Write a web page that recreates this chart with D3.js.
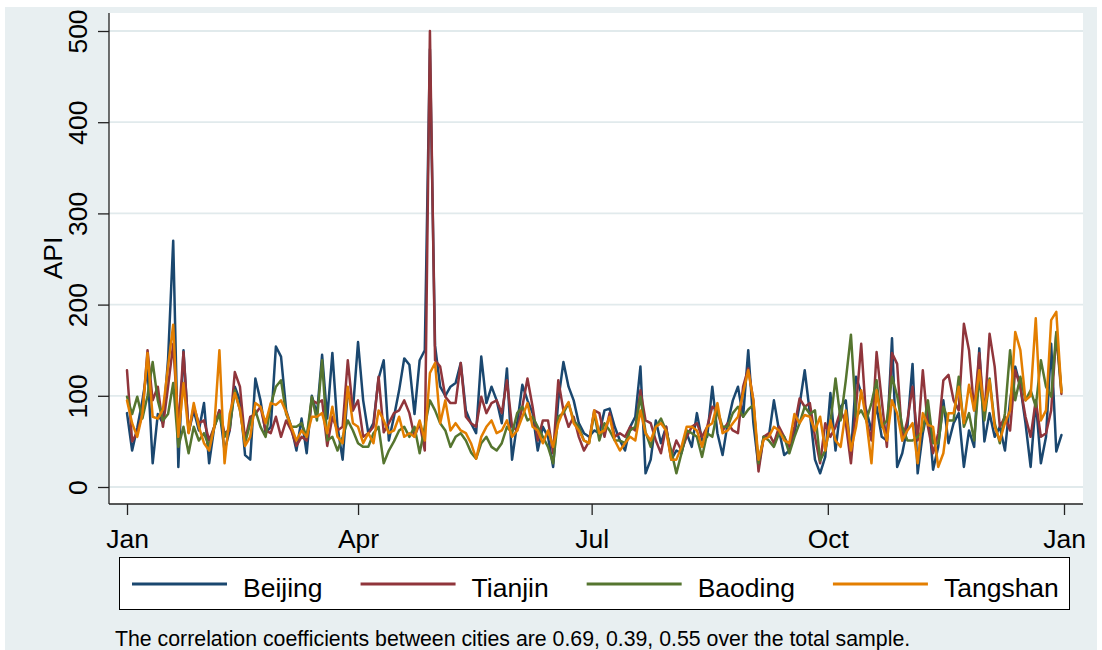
<!DOCTYPE html>
<html>
<head>
<meta charset="utf-8">
<script src="https://cdn.jsdelivr.net/npm/d3@7"></script>
<style>
  body { margin: 0; background: #ffffff; }
  svg { display: block; }
  text { font-family: "Liberation Sans", Arial, Helvetica, sans-serif; fill: #000; }
</style>
</head>
<body>
<svg id="chart" width="1102" height="650"></svg>
<script>
// ---------------- DATA (daily API, sampled every second day of the year) ----------------
const startDate = new Date(Date.UTC(2013, 0, 1));
const dayOffsets = d3.range(0, 365, 2);            // x categories: day of year
const dates = dayOffsets.map(d => d3.utcDay.offset(startDate, d));

const seriesNames = ["Beijing", "Tianjin", "Baoding", "Tangshan"];

const beijing = [
  81, 40, 65, 95, 130, 26, 80, 70, 140, 270, 22, 150, 60, 84, 62, 92, 26, 66, 84, 40, 62, 110, 95, 35, 30, 119, 95, 59, 66, 154, 143, 84,
  66, 40, 75, 37, 100, 80, 145, 75, 147, 66, 30, 106, 84, 159, 95, 59, 70, 119, 139, 51, 77, 106, 141, 134, 80, 139, 150, 480, 155, 110, 100, 110,
  114, 136, 84, 70, 59, 143, 92, 110, 95, 70, 130, 30, 70, 112, 95, 81, 40, 66, 55, 22, 95, 137, 110, 95, 70, 59, 55, 62, 59, 84, 86, 66,
  51, 40, 66, 77, 132, 15, 30, 73, 48, 66, 30, 40, 37, 59, 44, 81, 51, 55, 110, 59, 35, 70, 95, 110, 77, 150, 70, 22, 55, 55, 95, 62, 35,
  40, 59, 90, 128, 81, 30, 15, 33, 103, 40, 88, 95, 35, 121, 103, 84, 62, 88, 55, 51, 163, 22, 37, 66, 135, 15, 59, 88, 19, 44, 95, 48,
  70, 81, 22, 62, 44, 152, 50, 81, 55, 66, 40, 95, 132, 110, 70, 22, 95, 26, 55, 157, 39, 57
];
const tianjin = [
  128, 50, 60, 80, 150, 95, 110, 66, 110, 157, 66, 148, 60, 88, 70, 73, 51, 66, 84, 59, 62, 126, 110, 51, 77, 80, 88, 62, 59, 77, 55, 73,
  62, 45, 55, 51, 95, 92, 95, 45, 77, 62, 66, 139, 84, 95, 55, 59, 66, 121, 60, 70, 81, 84, 95, 81, 55, 70, 40, 500, 139, 132, 99, 92,
  92, 136, 77, 70, 66, 99, 81, 92, 95, 81, 117, 66, 62, 88, 119, 88, 51, 73, 73, 37, 117, 84, 66, 77, 55, 40, 50, 84, 81, 55, 81, 55,
  59, 55, 66, 62, 106, 73, 70, 51, 37, 66, 33, 51, 40, 55, 66, 70, 55, 66, 88, 84, 62, 70, 62, 59, 110, 130, 95, 17, 55, 59, 48, 66, 55,
  44, 66, 97, 88, 92, 55, 26, 70, 55, 66, 84, 70, 26, 88, 157, 73, 51, 148, 95, 44, 147, 135, 51, 73, 110, 51, 128, 66, 37, 59, 117, 123,
  95, 84, 179, 150, 84, 147, 77, 168, 132, 66, 77, 62, 128, 110, 77, 55, 95, 55, 59, 84, 168, 102
];
const baoding = [
  99, 80, 99, 75, 100, 137, 95, 73, 80, 114, 44, 66, 37, 66, 51, 59, 44, 66, 80, 55, 66, 106, 84, 48, 70, 84, 66, 55, 90, 110, 117, 80,
  66, 66, 70, 55, 99, 73, 139, 51, 55, 40, 55, 73, 62, 48, 44, 44, 59, 66, 26, 40, 50, 62, 66, 55, 66, 37, 66, 95, 84, 70, 62, 44,
  55, 59, 51, 38, 31, 48, 55, 44, 40, 48, 66, 59, 81, 88, 73, 77, 66, 55, 44, 26, 77, 81, 92, 73, 66, 51, 48, 81, 51, 70, 62, 51,
  51, 48, 62, 66, 99, 60, 44, 66, 75, 62, 40, 15, 37, 62, 59, 55, 33, 59, 55, 84, 66, 66, 81, 88, 77, 85, 90, 26, 55, 51, 44, 59, 55,
  37, 55, 70, 88, 80, 84, 29, 40, 70, 119, 73, 117, 167, 77, 84, 73, 92, 117, 66, 73, 121, 100, 66, 51, 51, 55, 62, 95, 48, 48, 88, 73,
  73, 121, 66, 81, 51, 121, 73, 119, 70, 48, 81, 150, 95, 121, 95, 106, 88, 139, 110, 99, 170, 106
];
const tangshan = [
  95, 70, 55, 80, 147, 77, 75, 85, 132, 178, 55, 114, 59, 92, 66, 48, 40, 66, 150, 26, 80, 103, 85, 45, 55, 92, 88, 70, 92, 90, 95, 82,
  66, 51, 62, 55, 77, 77, 81, 59, 88, 55, 48, 110, 70, 66, 48, 59, 48, 84, 73, 59, 62, 77, 55, 59, 55, 73, 51, 125, 136, 70, 95, 62,
  70, 62, 59, 48, 31, 55, 66, 73, 59, 62, 73, 55, 62, 77, 92, 66, 62, 48, 62, 44, 70, 84, 93, 70, 62, 51, 48, 84, 59, 62, 77, 51,
  40, 48, 55, 51, 84, 59, 51, 66, 70, 62, 30, 30, 44, 66, 66, 62, 44, 66, 70, 92, 59, 62, 70, 77, 103, 128, 95, 30, 52, 55, 66, 62, 51,
  48, 80, 70, 79, 77, 62, 77, 40, 73, 51, 44, 84, 40, 66, 106, 73, 26, 106, 70, 51, 95, 81, 51, 62, 70, 26, 81, 68, 66, 22, 37, 81,
  81, 110, 70, 112, 84, 128, 84, 117, 66, 51, 70, 84, 170, 150, 95, 100, 185, 73, 84, 183, 192, 104
];

const yTickValues = [0, 100, 200, 300, 400, 500];
const xTickDates = [
  new Date(Date.UTC(2013, 0, 1)), new Date(Date.UTC(2013, 3, 1)), new Date(Date.UTC(2013, 6, 1)),
  new Date(Date.UTC(2013, 9, 1)), new Date(Date.UTC(2014, 0, 1))
];
const yTitle = "API";
const note = "The correlation coefficients between cities are 0.69, 0.39, 0.55 over the total sample.";

// ---------------- STYLE ----------------
const colors = ["#1a476f", "#90353b", "#55752f", "#e37e00"];
const bg = "#e8eff1";
const gridColor = "#e1eaec";
const plot = { left: 109, right: 1083, top: 13, bottom: 504 };

const svg = d3.select("#chart");
svg.append("rect").attr("x", 5).attr("y", 7).attr("width", 1092).attr("height", 643).attr("fill", bg);
svg.append("rect")
  .attr("x", plot.left).attr("y", plot.top)
  .attr("width", plot.right - plot.left).attr("height", plot.bottom - plot.top)
  .attr("fill", "#ffffff");

const x = d3.scaleUtc()
  .domain([new Date(Date.UTC(2013, 0, 1)), new Date(Date.UTC(2014, 0, 1))])
  .range([127, 1064]);
const y = d3.scaleLinear().domain([0, 500]).range([487, 31]);

// gridlines
svg.append("g").selectAll("line").data(yTickValues).join("line")
  .attr("x1", plot.left).attr("x2", plot.right)
  .attr("y1", d => y(d)).attr("y2", d => y(d))
  .attr("stroke", gridColor).attr("stroke-width", 1.8);

// series
const allSeries = [beijing, tianjin, baoding, tangshan];
const line = d3.line()
  .x((d, i) => x(dates[i]))
  .y(d => y(d));
svg.append("g").selectAll("path").data(allSeries).join("path")
  .attr("d", d => line(d))
  .attr("fill", "none")
  .attr("stroke", (d, i) => colors[i])
  .attr("stroke-width", 2.5)
  .attr("stroke-linejoin", "round")
  .attr("stroke-linecap", "round");

// axis lines
svg.append("line").attr("x1", plot.left).attr("x2", plot.left).attr("y1", plot.top).attr("y2", plot.bottom)
  .attr("stroke", "#222").attr("stroke-width", 1.3);
svg.append("line").attr("x1", plot.left).attr("x2", plot.right).attr("y1", plot.bottom).attr("y2", plot.bottom)
  .attr("stroke", "#222").attr("stroke-width", 1.3);

// y axis
const yAxis = svg.append("g").attr("transform", `translate(${plot.left},0)`)
  .call(d3.axisLeft(y).tickValues(yTickValues).tickFormat(d3.format("d")).tickSize(11));
yAxis.select(".domain").remove();
yAxis.selectAll(".tick line").attr("stroke", "#222").attr("stroke-width", 1.3);
yAxis.selectAll(".tick text")
  .attr("x", null).attr("dy", null).attr("y", null)
  .attr("transform", "translate(-22,0) rotate(-90)")
  .attr("text-anchor", "middle")
  .style("font-size", "26.5px")
  .attr("fill", "#000");

// x axis
const xAxis = svg.append("g").attr("transform", `translate(0,${plot.bottom})`)
  .call(d3.axisBottom(x).tickValues(xTickDates).tickFormat(d3.utcFormat("%b")).tickSize(11));
xAxis.select(".domain").remove();
xAxis.selectAll(".tick line").attr("stroke", "#222").attr("stroke-width", 1.3);
xAxis.selectAll(".tick text")
  .attr("y", 44).attr("dy", null)
  .attr("text-anchor", "middle")
  .style("font-size", "26.5px")
  .attr("fill", "#000");

// y title
svg.append("text")
  .attr("transform", "translate(62,258) rotate(-90)")
  .attr("text-anchor", "middle")
  .style("font-size", "26.5px")
  .text(yTitle);

// legend
svg.append("rect").attr("x", 119.5).attr("y", 557.5).attr("width", 950).attr("height", 52)
  .attr("fill", "#ffffff").attr("stroke", "#000").attr("stroke-width", 1);
let lx = 132;
seriesNames.forEach((name, i) => {
  svg.append("line").attr("x1", lx).attr("x2", lx + 95).attr("y1", 584).attr("y2", 584)
    .attr("stroke", colors[i]).attr("stroke-width", 2.8);
  const t = svg.append("text").attr("x", lx + 111).attr("y", 597)
    .style("font-size", "26.5px").text(name);
  lx = lx + 111 + t.node().getComputedTextLength() + 38;
});

// note
svg.append("text").attr("x", 115).attr("y", 646)
  .style("font-size", "21.3px").text(note);
</script>
</body>
</html>
